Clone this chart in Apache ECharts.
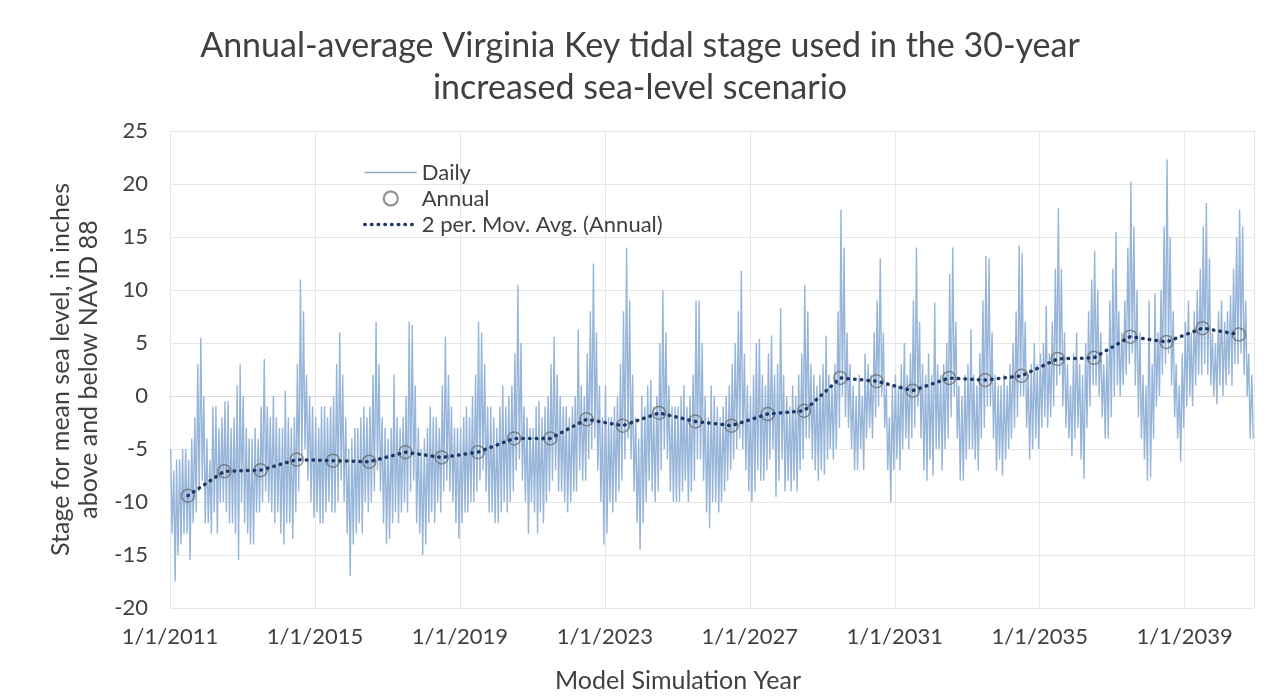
<!DOCTYPE html>
<html><head><meta charset="utf-8">
<script src="https://cdn.jsdelivr.net/npm/echarts@6/dist/echarts.min.js"></script>
<style>html,body{margin:0;padding:0;background:#fff}#c{width:1280px;height:700px}</style>
</head><body><div id="c"></div>
<script>
// Daily record summarised as monthly high / low readings (Jan 2011 .. Nov 2040)
const startYear = 2011;
const monthlyHigh = [
  -5,-7,-6,-6,-5,-5,-6,-4,-2,3,5.5,0,
  -4,-6,-1,-1,-3,-2,-0.5,-0.5,-3,-2,1,3,
  0,-3,-4,-4,-3,-4,-1,3.5,-1,-2,0,-2,
  -3,-3,0.5,-2,-3,-2,3,11,8,2,0,-1,
  -2,-3,-1,-1,-2,-1,0,3,6,2,-2,-5,
  -4,-3,-3,-2,-1,-2,-1,2,7,3,-2,-3,
  -4,-3,2,-2,-3,-2,0,7,6.7,1,-3,-5,
  -4,-3,-1,-2,-2,-3,1,5.6,2,-1,-3,-3,
  -3,-2,-1,-2,0,2,7,6,3,-1,-1,-2,
  -3,-1,1,-1,0,1,4,10.5,5,-1,-2,-3,
  -3,-1,-0.5,-2,-1,0,3,5.6,2,0,-1,-1,
  -2,-1,0,6.3,1,0,4,8,12.5,6,1,-2,
  1,-2,-2,-1,0,3,8,14,9,2,-2,-4,
  0,-1,1,1.5,-1,0,5,10,6,1,-1,-1,
  -1,0,1,-1,0,2,9,9,5,0,-2,1,
  0,-1,-2,-1,0,1,3,5,8,11.8,4,1,
  0,2,5,5.4,2,1,4,5.7,2,3,8.3,2,
  0,-1,1,0,2,4,10.5,8,3,2,1,2,
  3,5.7,2,1,3,8,17.6,14,6,3,1,0,
  2,0,4,3,2,6,9,13,6,1,-2,1,
  2,1,3,5,2,4,9,14,7,3,2,4,
  2,8.8,3,2,3,5,11.5,14,7,1,0,2,
  3,6.3,2,1,4,9,13.2,13,6,2,1,1,
  2,1,3,5,8,14.2,13.5,7,2,3,5,3,
  4,5,8.5,4,7,12,17.7,12,6,3,1,4,
  6,3,2,5,8,11,13.7,10,6,3,4,9,
  12,15.5,8,6,9,14,20.2,16,10,6,2,1,
  9,3,9.7,6,10,16,22.3,15,8,3,1,4,
  7,9,6,8,10,12,16,18.2,13,6,5,8,
  9,7,8,9.5,12,15,17.6,16,9,4,2
];
const monthlyLow = [
  -13,-17.5,-15,-14,-13,-13,-15.5,-12,-11,-9,-8,-12,
  -12,-13,-11,-13,-10,-10,-11,-12,-12,-13,-15.5,-10,
  -12,-13,-14,-14,-11,-11,-10,-9,-10,-11,-12,-11,
  -13,-14,-12,-12,-13.5,-11,-9,-6,-5,-8,-10,-11.5,
  -11,-12,-12,-11,-10,-11,-11,-10,-8,-10,-13,-17,
  -14,-13,-12,-13,-10,-11,-10,-9,-7,-9,-12,-14,
  -13.5,-12,-11,-12,-11,-10,-11,-9,-8,-12,-13,-15,
  -14,-12,-11,-12,-10,-11,-9,-8,-9,-10,-12,-13.5,
  -12,-11,-11,-10,-10,-9,-8,-7,-9,-11,-11,-12,
  -12,-11,-10,-11,-10,-9,-7,-6,-8,-10,-13,-10,
  -11,-13,-11,-12,-10,-9,-8,-7,-9,-9,-10,-11,
  -10,-9,-9,-7,-8,-8,-6,-5,-4,-7,-10,-14,
  -13,-10,-11,-10,-9,-8,-6,-4,-6,-9,-12,-14.5,
  -12,-10,-8,-9,-10,-9,-7,-5,-6,-9,-10,-10,
  -10,-9,-8,-10,-9,-8,-6,-6,-8,-11,-12.5,-10,
  -10,-11,-10,-9,-8,-7,-6,-5,-4,-5,-7,-9,
  -10,-9,-7,-8,-8,-7,-6,-5,-9.5,-8,-6,-9,
  -8,-9,-8,-9,-7,-6,-4,-4,-6,-7,-8,-7,
  -7.4,-6,-5,-6,-5,-3,0,-2,-3,-5,-7,-7,
  -5,-7,-4,-3,-4,-2,-1,0,-3,-7,-10,-7,
  -6,-7,-5,-4,-5,-4,-3,-1,-4,-7,-8,-6,
  -7.5,-5,-5,-7,-5,-4,-2,0,-4,-8,-8,-6,
  -5,-5,-6,-7,-4,-3,-1,-1,-4,-7,-6,-7.5,
  -6,-5,-4,-3,-2,0,0,-3,-6,-5,-4,-5,
  -3,-2,-3,-2,-1,1,2,-1,-3,-4,-5.7,-4,
  -3,-6,-7.8,-3,-1,1,1,0,-2,-4,-4,-2,
  0,1,0,1,2,3,4,1,-2,-4,-6,-8,
  -7.7,-4,-1,0,2,3,4,1,-2,-4,-6.2,-3,
  -1,0,-1,1,2,2,3,2,1,0,-0.8,1,
  0,1,2,1,3,3,4,2,0,-4,-4
];
const annualYears = [2011,2012,2013,2014,2015,2016,2017,2018,2019,2020,2021,2022,2023,2024,2025,2026,2027,2028,2029,2030,2031,2032,2033,2034,2035,2036,2037,2038,2039,2040];
const annualValues = [-9.4,-7.1,-7.0,-6.0,-6.1,-6.2,-5.3,-5.8,-5.3,-4.0,-4.0,-2.2,-2.8,-1.6,-2.4,-2.8,-1.7,-1.4,1.7,1.4,0.5,1.7,1.5,1.9,3.5,3.6,5.6,5.1,6.4,5.8];
const movAvgValues = annualValues.slice();
const xTickYears = [2011,2015,2019,2023,2027,2031,2035,2039];
const yTickValues = [-20,-15,-10,-5,0,5,10,15,20,25];

const DAY = 86400000;
const dailyData = [];
for (let i = 0; i < monthlyHigh.length; i++) {
  const y = startYear + Math.floor(i / 12), m = i % 12;
  dailyData.push([Date.UTC(y, m, 8), monthlyHigh[i]]);
  dailyData.push([Date.UTC(y, m, 22), monthlyLow[i]]);
}
const annualData = annualYears.map((y, i) => [Date.UTC(y, 6, 1), annualValues[i]]);
const movData = annualYears.map((y, i) => [Date.UTC(y, 6, 1), movAvgValues[i]]);
const tickLabelMap = {};
xTickYears.forEach(y => { tickLabelMap[Date.UTC(y, 0, 1)] = '1/1/' + y; });

const FONT = 'Lato, "Open Sans", sans-serif';
const TXT = '#404040';
const DOT = {color: '#1f3864', width: 3.5, type: [0.5, 6.2], cap: 'round'};
const chart = echarts.init(document.getElementById('c'), null, {renderer: 'canvas'});
chart.setOption({
  animation: false,
  backgroundColor: '#ffffff',
  textStyle: {fontFamily: FONT},
  title: {
    text: 'Annual-average Virginia Key tidal stage used in the 30-year\nincreased sea-level scenario',
    left: 'center', top: 20,
    textStyle: {fontFamily: FONT, fontSize: 34, fontWeight: 'normal', color: TXT, lineHeight: 42}
  },
  legend: {
    orient: 'vertical', left: 358, top: 155,
    itemWidth: 52, itemHeight: 14, itemGap: 1,
    textStyle: {fontFamily: FONT, fontSize: 22, color: TXT, lineHeight: 25},
    data: [
      {name: 'Daily', itemStyle: {opacity: 0}, lineStyle: {color: '#9aa9bd', width: 1.4}},
      {name: 'Annual'},
      {name: '2 per. Mov. Avg. (Annual)', itemStyle: {opacity: 0}, lineStyle: DOT}
    ]
  },
  grid: {left: 170, right: 26, top: 131, bottom: 92, containLabel: false},
  xAxis: {
    type: 'value',
    min: Date.UTC(xTickYears[0], 0, 1),
    max: Date.UTC(2040, 10, 30),
    interval: 1461 * DAY,
    name: 'Model Simulation Year',
    nameLocation: 'middle', nameGap: 60,
    nameTextStyle: {fontFamily: FONT, fontSize: 25, color: TXT, padding: [0, 68, 0, 0]},
    axisLine: {show: true, lineStyle: {color: '#d9d9d9', width: 1}},
    axisTick: {show: false},
    axisLabel: {
      fontFamily: FONT, fontSize: 22, color: TXT, margin: 18,
      showMaxLabel: false,
      formatter: v => tickLabelMap[v] || ''
    },
    splitLine: {show: true, lineStyle: {color: '#e6e6e6', width: 1}}
  },
  yAxis: {
    type: 'value', min: yTickValues[0], max: yTickValues[yTickValues.length - 1], interval: 5,
    name: 'Stage for mean sea level, in inches\nabove and below NAVD 88',
    nameLocation: 'middle', nameGap: 67, nameRotate: 90,
    nameTextStyle: {fontFamily: FONT, fontSize: 25, color: TXT, lineHeight: 28},
    axisLine: {show: false},
    axisTick: {show: false},
    axisLabel: {fontFamily: FONT, fontSize: 22, color: TXT, margin: 22},
    splitLine: {show: true, lineStyle: {color: '#e6e6e6', width: 1}}
  },
  series: [
    {
      name: 'Daily', type: 'line', data: dailyData,
      symbol: 'none', showSymbol: false,
      lineStyle: {color: '#97b5d9', width: 1.4},
      itemStyle: {color: '#97b5d9'},
      z: 1
    },
    {
      name: 'Annual', type: 'scatter', data: annualData,
      symbol: 'circle', symbolSize: 13,
      itemStyle: {color: 'rgba(255,255,255,0)', borderColor: '#6f6f6f', borderWidth: 1.5},
      z: 2
    },
    {
      name: '2 per. Mov. Avg. (Annual)', type: 'line', data: movData,
      symbol: 'none', showSymbol: false,
      lineStyle: DOT,
      itemStyle: {color: '#1f3864'},
      z: 3
    }
  ]
});
</script>
</body></html>
